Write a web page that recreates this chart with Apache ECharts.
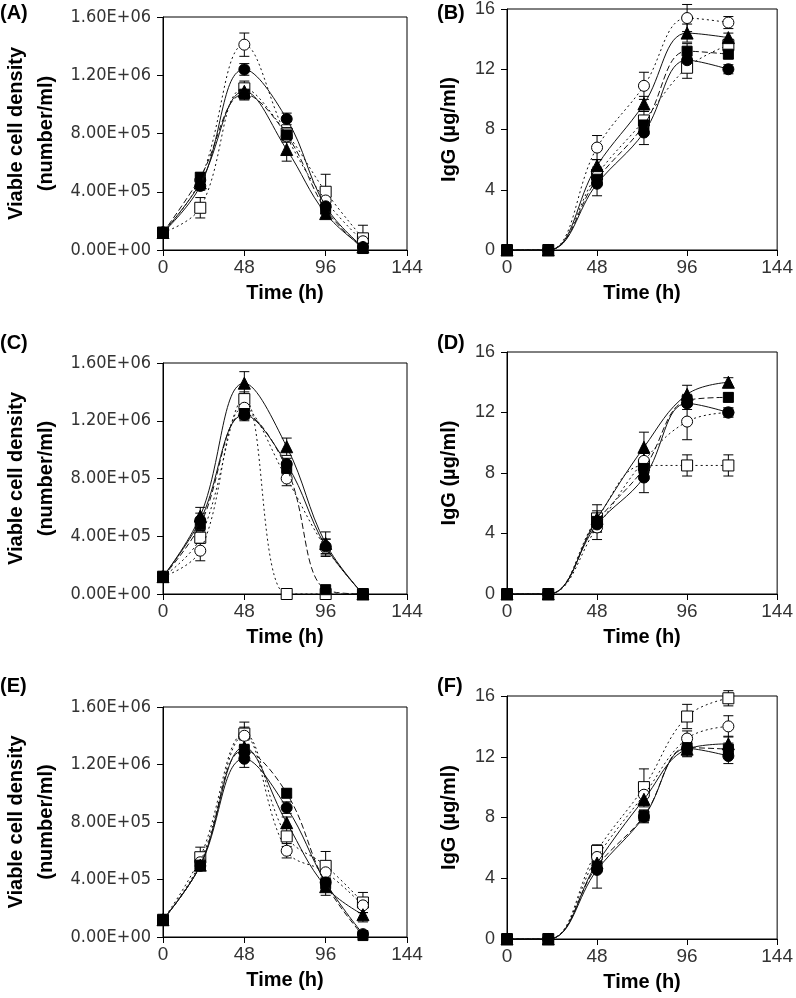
<!DOCTYPE html>
<html><head><meta charset="utf-8">
<script src="https://cdn.jsdelivr.net/npm/echarts@6/dist/echarts.min.js"></script>
<style>html,body{margin:0;padding:0;background:#fff}#c{width:796px;height:998px}</style>
</head><body><div id="c"></div><script>
// Sampling times (h)
const times = [0, 22, 48, 73, 96, 118];
const xTicks = [0, 48, 96, 144];
const vcdTicks = [0, 4e5, 8e5, 1.2e6, 1.6e6];
const iggTicks = [0, 4, 8, 12, 16];
const panelLabels = ['(A)', '(B)', '(C)', '(D)', '(E)', '(F)'];
const vcdTitle = 'Viable cell density\n(number/ml)';
const iggTitle = 'IgG (\u00b5g/ml)';
const xTitle = 'Time (h)';

// Series order in each panel: filled circle, filled triangle, filled square, open circle, open square
// Panel A – viable cell density
const A_fc = [1.2e5, 4.4e5, 12.4e5, 9.0e5, 3.0e5, 0.2e5];
const A_ft = [1.2e5, 4.6e5, 10.9e5, 6.9e5, 2.5e5, 0.2e5];
const A_fs = [1.2e5, 5.0e5, 10.7e5, 7.9e5, 2.8e5, 0.1e5];
const A_oc = [1.2e5, 4.8e5, 14.1e5, 7.8e5, 3.4e5, 0.6e5];
const A_os = [1.2e5, 2.9e5, 11.1e5, 8.0e5, 4.0e5, 0.8e5];
const A_fc_err = [0.1e5, 0.3e5, 0.4e5, 0.4e5, 0.3e5, 0.1e5];
const A_ft_err = [0.1e5, 0.3e5, 0.4e5, 0.8e5, 0.3e5, 0.1e5];
const A_fs_err = [0.1e5, 0.3e5, 0.4e5, 0.4e5, 0.3e5, 0.1e5];
const A_oc_err = [0.1e5, 0.3e5, 0.8e5, 0.4e5, 0.4e5, 0.3e5];
const A_os_err = [0.1e5, 0.7e5, 0.5e5, 0.4e5, 1.2e5, 0.9e5];

// Panel B – IgG
const B_fc = [0, 0, 4.4, 7.8, 12.6, 12.0];
const B_ft = [0, 0, 5.6, 9.7, 14.4, 14.1];
const B_fs = [0, 0, 4.7, 8.3, 13.2, 13.0];
const B_oc = [0, 0, 6.8, 10.9, 15.4, 15.1];
const B_os = [0, 0, 5.0, 8.6, 12.1, 13.6];
const B_fc_err = [0, 0, 0.8, 0.8, 0.5, 0.3];
const B_ft_err = [0, 0, 0.4, 0.5, 0.6, 0.3];
const B_fs_err = [0, 0, 0.4, 0.4, 0.5, 0.3];
const B_oc_err = [0, 0, 0.8, 0.9, 0.9, 0.4];
const B_os_err = [0, 0, 0.5, 0.6, 0.7, 0.4];

// Panel C – viable cell density
const C_fc = [1.2e5, 5.1e5, 12.4e5, 9.0e5, 3.3e5, 0];
const C_ft = [1.2e5, 5.4e5, 14.6e5, 10.2e5, 3.5e5, 0];
const C_fs = [1.2e5, 4.8e5, 12.5e5, 8.7e5, 0.3e5, 0];
const C_oc = [1.2e5, 3.0e5, 12.9e5, 8.0e5, 3.2e5, 0];
const C_os = [1.2e5, 3.9e5, 13.5e5, 0, 0, 0];
const C_fc_err = [0.1e5, 0.5e5, 0.4e5, 0.4e5, 0.5e5, 0.05e5];
const C_ft_err = [0.1e5, 0.6e5, 0.8e5, 0.6e5, 0.8e5, 0.05e5];
const C_fs_err = [0.1e5, 0.4e5, 0.4e5, 0.4e5, 0.1e5, 0.05e5];
const C_oc_err = [0.1e5, 0.7e5, 0.5e5, 0.5e5, 0.6e5, 0.05e5];
const C_os_err = [0.1e5, 0.4e5, 0.5e5, 0.05e5, 0.05e5, 0.05e5];

// Panel D – IgG
const D_fc = [0, 0, 4.6, 7.7, 12.6, 12.0];
const D_ft = [0, 0, 5.0, 9.7, 13.2, 14.0];
const D_fs = [0, 0, 4.8, 8.3, 12.8, 13.0];
const D_oc = [0, 0, 4.4, 8.8, 11.4, 12.0];
const D_os = [0, 0, 5.0, 8.5, 8.5, 8.5];
const D_fc_err = [0, 0, 0.5, 1.0, 0.4, 0.3];
const D_ft_err = [0, 0, 0.5, 1.0, 0.6, 0.3];
const D_fs_err = [0, 0, 0.4, 0.4, 0.4, 0.3];
const D_oc_err = [0, 0, 0.8, 0.5, 1.2, 0.3];
const D_os_err = [0, 0, 0.9, 0.8, 0.7, 0.7];

// Panel E – viable cell density
const E_fc = [1.2e5, 4.95e5, 12.4e5, 9.0e5, 3.8e5, 0.2e5];
const E_ft = [1.2e5, 5.0e5, 13.2e5, 7.95e5, 3.5e5, 1.55e5];
const E_fs = [1.2e5, 5.0e5, 13.0e5, 10.0e5, 3.7e5, 0.1e5];
const E_oc = [1.2e5, 5.2e5, 14.0e5, 6.0e5, 4.5e5, 2.2e5];
const E_os = [1.2e5, 5.55e5, 14.15e5, 7.0e5, 4.95e5, 2.4e5];
const E_fc_err = [0.1e5, 0.3e5, 0.6e5, 0.4e5, 0.6e5, 0.1e5];
const E_ft_err = [0.1e5, 0.3e5, 0.5e5, 0.4e5, 0.6e5, 0.5e5];
const E_fs_err = [0.1e5, 0.3e5, 0.4e5, 0.3e5, 0.4e5, 0.1e5];
const E_oc_err = [0.1e5, 0.3e5, 0.6e5, 0.5e5, 0.5e5, 0.5e5];
const E_os_err = [0.1e5, 0.7e5, 0.8e5, 0.7e5, 1.0e5, 0.7e5];

// Panel F – IgG
const F_fc = [0, 0, 4.55, 8.05, 12.55, 12.05];
const F_ft = [0, 0, 5.0, 9.2, 12.5, 12.85];
const F_fs = [0, 0, 4.8, 8.1, 12.6, 12.5];
const F_oc = [0, 0, 5.4, 9.5, 13.2, 14.0];
const F_os = [0, 0, 5.8, 10.0, 14.65, 15.85];
const F_fc_err = [0, 0, 1.2, 0.4, 0.5, 0.5];
const F_ft_err = [0, 0, 0.5, 0.5, 0.5, 0.5];
const F_fs_err = [0, 0, 0.4, 0.4, 0.4, 0.4];
const F_oc_err = [0, 0, 0.5, 0.5, 0.5, 0.7];
const F_os_err = [0, 0, 0.4, 1.2, 0.8, 0.5];

const panels = [
  {vals: [A_fc, A_ft, A_fs, A_oc, A_os], errs: [A_fc_err, A_ft_err, A_fs_err, A_oc_err, A_os_err], kind: 'vcd'},
  {vals: [B_fc, B_ft, B_fs, B_oc, B_os], errs: [B_fc_err, B_ft_err, B_fs_err, B_oc_err, B_os_err], kind: 'igg'},
  {vals: [C_fc, C_ft, C_fs, C_oc, C_os], errs: [C_fc_err, C_ft_err, C_fs_err, C_oc_err, C_os_err], kind: 'vcd'},
  {vals: [D_fc, D_ft, D_fs, D_oc, D_os], errs: [D_fc_err, D_ft_err, D_fs_err, D_oc_err, D_os_err], kind: 'igg'},
  {vals: [E_fc, E_ft, E_fs, E_oc, E_os], errs: [E_fc_err, E_ft_err, E_fs_err, E_oc_err, E_os_err], kind: 'vcd'},
  {vals: [F_fc, F_ft, F_fs, F_oc, F_os], errs: [F_fc_err, F_ft_err, F_fs_err, F_oc_err, F_os_err], kind: 'igg'}
];

// Layout / styles
const gridBoxes = [
  {left: 146, top: 17, width: 261, height: 233},
  {left: 507, top: 8, width: 275, height: 242},
  {left: 146, top: 363, width: 261, height: 231},
  {left: 507, top: 352, width: 275, height: 242},
  {left: 146, top: 707, width: 261, height: 230},
  {left: 507, top: 696, width: 275, height: 243}
];
const labelPos = [[0, 3], [437, 3], [0, 333], [437, 333], [0, 676], [437, 676]];
const seriesStyle = [
  {symbol: 'circle', fill: '#000', dash: 'solid', size: 11},
  {symbol: 'triangle', fill: '#000', dash: 'solid', size: 12},
  {symbol: 'rect', fill: '#000', dash: [6, 3], size: 10},
  {symbol: 'circle', fill: '#fff', dash: [2, 3], size: 11},
  {symbol: 'rect', fill: '#fff', dash: [2, 3], size: 11}
];
const FONT = '"Liberation Sans", Arial, sans-serif';
const NARROW = '"Liberation Sans Narrow", "DejaVu Sans Condensed", "Liberation Sans", sans-serif';

function sciFmt(v) {
  if (v === 0) return '0.00E+00';
  const e = Math.floor(Math.log10(v) + 1e-9);
  const m = v / Math.pow(10, e);
  return m.toFixed(2) + 'E+' + String(e).padStart(2, '0');
}

const grid = [], xAxis = [], yAxis = [], series = [], graphic = [];
panels.forEach((p, i) => {
  grid.push(Object.assign({show: true, borderColor: '#000', borderWidth: 1, backgroundColor: 'transparent'}, gridBoxes[i]));
  xAxis.push({
    type: 'value', gridIndex: i, min: xTicks[0], max: xTicks[xTicks.length - 1], interval: xTicks[1] - xTicks[0],
    axisLine: {show: true, onZero: false, lineStyle: {color: '#000', width: 1}},
    axisTick: {show: true, inside: false, length: 6, lineStyle: {color: '#000'}},
    splitLine: {show: false},
    axisLabel: {fontSize: 19, color: '#333', margin: 8, fontFamily: FONT},
    name: xTitle, nameLocation: 'middle', nameGap: 33,
    nameTextStyle: {fontSize: 20, fontWeight: 'bold', color: '#000', fontFamily: FONT}
  });
  const isV = p.kind === 'vcd';
  const ticks = isV ? vcdTicks : iggTicks;
  yAxis.push({
    type: 'value', gridIndex: i, min: ticks[0], max: ticks[ticks.length - 1], interval: ticks[1] - ticks[0],
    axisLine: {show: true, onZero: false, lineStyle: {color: '#000', width: 1}},
    axisTick: {show: true, inside: false, length: 6, lineStyle: {color: '#000'}},
    splitLine: {show: false},
    axisLabel: {fontSize: 18, color: '#333', margin: 12, fontFamily: isV ? NARROW : FONT,
      formatter: isV ? sciFmt : (v => String(v))},
    name: isV ? vcdTitle : iggTitle, nameLocation: 'middle', nameGap: isV ? 102 : 43,
    nameTextStyle: {fontSize: 20, fontWeight: 'bold', color: '#000', fontFamily: FONT, lineHeight: 30, align: 'center'}
  });
  graphic.push({type: 'text', left: labelPos[i][0], top: labelPos[i][1],
    style: {text: panelLabels[i], font: 'bold 20px ' + FONT, fill: '#000'}});

  p.vals.forEach((vals, s) => {
    const st = seriesStyle[s];
    series.push({
      type: 'custom', xAxisIndex: i, yAxisIndex: i, z: 1, silent: true,
      data: times.map((t, k) => [t, vals[k], p.errs[s][k]]).filter(d => d[2] > 0),
      encode: {x: 0, y: 1},
      renderItem: (params, api) => {
        const x = api.value(0), y = api.value(1), e = api.value(2);
        const hi = api.coord([x, y + e]), lo = api.coord([x, y - e]);
        const w = 5, sty = {stroke: '#000', lineWidth: 1};
        return {type: 'group', children: [
          {type: 'line', shape: {x1: hi[0], y1: hi[1], x2: lo[0], y2: lo[1]}, style: sty},
          {type: 'line', shape: {x1: hi[0] - w, y1: hi[1], x2: hi[0] + w, y2: hi[1]}, style: sty},
          {type: 'line', shape: {x1: lo[0] - w, y1: lo[1], x2: lo[0] + w, y2: lo[1]}, style: sty}
        ]};
      }
    });
    series.push({
      type: 'line', xAxisIndex: i, yAxisIndex: i, z: 2 + (4 - s) * 0.1,
      data: times.map((t, k) => [t, vals[k]]),
      smooth: 0.4, symbol: st.symbol, symbolSize: st.size, showAllSymbol: true,
      itemStyle: {color: st.fill, borderColor: '#000', borderWidth: 1},
      lineStyle: {color: '#111', width: 1, type: st.dash},
      emphasis: {disabled: true}, animation: false
    });
  });
});

const chart = echarts.init(document.getElementById('c'), null, {renderer: 'canvas'});
chart.setOption({backgroundColor: '#fff', animation: false, grid, xAxis, yAxis, series, graphic});
</script></body></html>
